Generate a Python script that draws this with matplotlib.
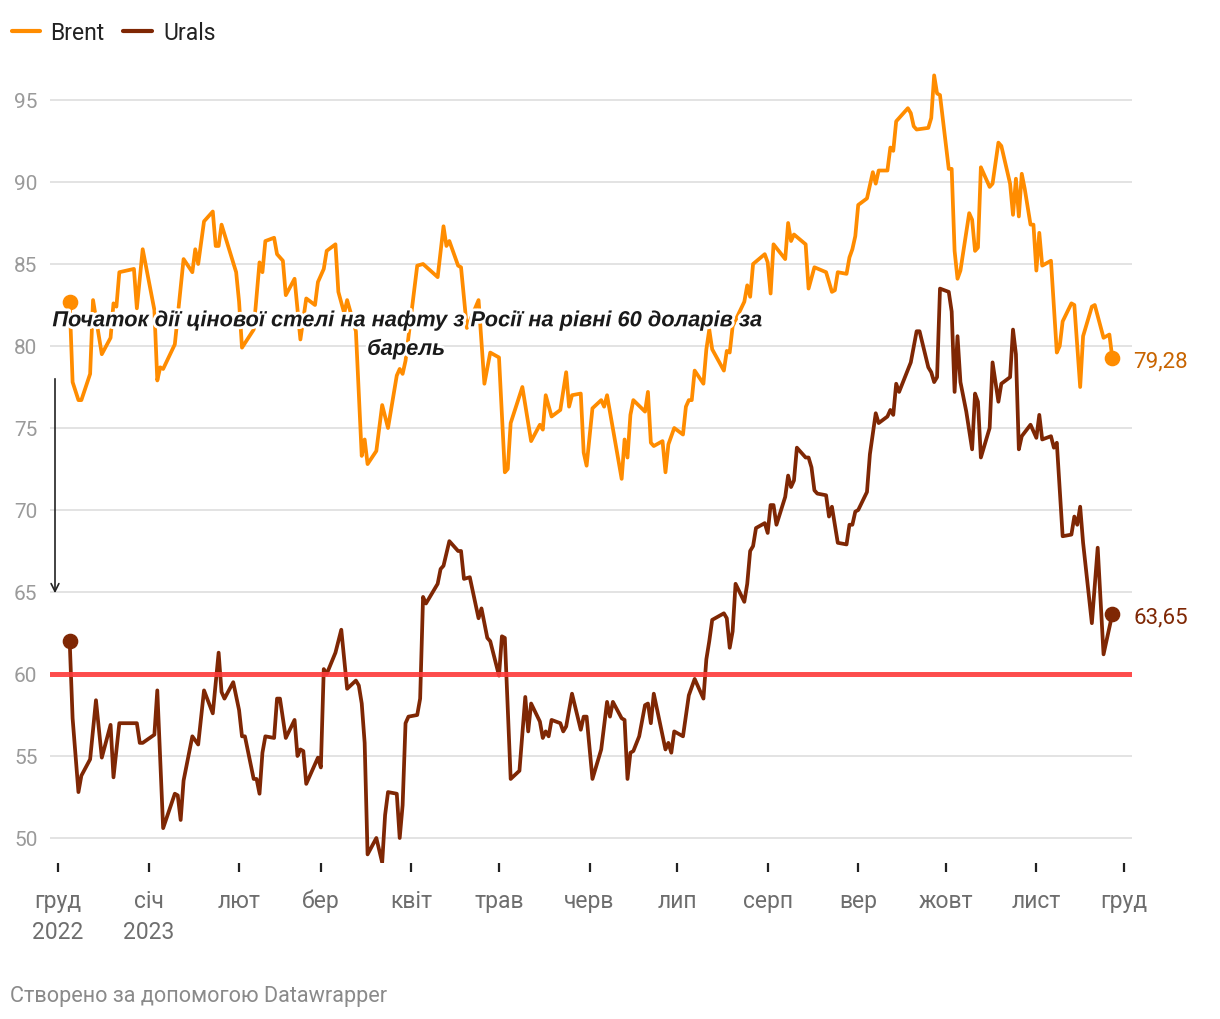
import matplotlib
matplotlib.use('Agg')
import matplotlib.pyplot as plt
import matplotlib.patheffects as pe
from matplotlib.lines import Line2D
import pandas as pd

# Brent, USD per barrel
brent_dates = [
    '2022-12-05', '2022-12-06', '2022-12-08', '2022-12-09', '2022-12-12', '2022-12-13', '2022-12-16',
    '2022-12-19', '2022-12-20', '2022-12-21', '2022-12-22', '2022-12-27', '2022-12-28', '2022-12-30',
    '2023-01-03', '2023-01-04', '2023-01-05', '2023-01-06', '2023-01-10', '2023-01-13', '2023-01-16',
    '2023-01-17', '2023-01-18', '2023-01-20', '2023-01-23', '2023-01-24', '2023-01-25', '2023-01-26',
    '2023-01-31', '2023-02-01', '2023-02-02', '2023-02-06', '2023-02-08', '2023-02-09', '2023-02-10',
    '2023-02-13', '2023-02-14', '2023-02-16', '2023-02-17', '2023-02-20', '2023-02-22', '2023-02-24',
    '2023-02-27', '2023-02-28', '2023-03-02', '2023-03-03', '2023-03-06', '2023-03-07', '2023-03-09',
    '2023-03-10', '2023-03-13', '2023-03-15', '2023-03-16', '2023-03-17', '2023-03-20', '2023-03-22',
    '2023-03-24', '2023-03-27', '2023-03-28', '2023-03-29', '2023-03-30', '2023-04-03', '2023-04-05',
    '2023-04-10', '2023-04-12', '2023-04-13', '2023-04-14', '2023-04-17', '2023-04-18', '2023-04-20',
    '2023-04-24', '2023-04-26', '2023-04-28', '2023-05-01', '2023-05-03', '2023-05-04', '2023-05-05',
    '2023-05-09', '2023-05-12', '2023-05-15', '2023-05-16', '2023-05-17', '2023-05-19', '2023-05-22',
    '2023-05-24', '2023-05-25', '2023-05-26', '2023-05-29', '2023-05-30', '2023-05-31', '2023-06-02',
    '2023-06-05', '2023-06-06', '2023-06-07', '2023-06-12', '2023-06-13', '2023-06-14', '2023-06-15',
    '2023-06-16', '2023-06-20', '2023-06-21', '2023-06-22', '2023-06-23', '2023-06-26', '2023-06-27',
    '2023-06-28', '2023-06-30', '2023-07-03', '2023-07-04', '2023-07-05', '2023-07-06', '2023-07-07',
    '2023-07-10', '2023-07-11', '2023-07-12', '2023-07-13', '2023-07-17', '2023-07-18', '2023-07-19',
    '2023-07-20', '2023-07-24', '2023-07-25', '2023-07-26', '2023-07-27', '2023-07-31', '2023-08-01',
    '2023-08-02', '2023-08-03', '2023-08-07', '2023-08-08', '2023-08-09', '2023-08-10', '2023-08-14',
    '2023-08-15', '2023-08-17', '2023-08-21', '2023-08-23', '2023-08-24', '2023-08-25', '2023-08-28',
    '2023-08-29', '2023-08-30', '2023-08-31', '2023-09-01', '2023-09-04', '2023-09-06', '2023-09-07',
    '2023-09-08', '2023-09-11', '2023-09-12', '2023-09-13', '2023-09-14', '2023-09-18', '2023-09-19',
    '2023-09-20', '2023-09-21', '2023-09-25', '2023-09-26', '2023-09-27', '2023-09-28', '2023-09-29',
    '2023-10-02', '2023-10-03', '2023-10-04', '2023-10-05', '2023-10-06', '2023-10-09', '2023-10-10',
    '2023-10-11', '2023-10-12', '2023-10-13', '2023-10-16', '2023-10-17', '2023-10-19', '2023-10-20',
    '2023-10-23', '2023-10-24', '2023-10-25', '2023-10-26', '2023-10-27', '2023-10-28', '2023-10-30',
    '2023-10-31', '2023-11-01', '2023-11-02', '2023-11-03', '2023-11-06', '2023-11-08', '2023-11-09',
    '2023-11-10', '2023-11-13', '2023-11-14', '2023-11-16', '2023-11-17', '2023-11-20', '2023-11-21',
    '2023-11-24', '2023-11-26', '2023-11-27',
]
brent_values = [
    82.7, 77.8, 76.7, 76.7, 78.3, 82.8, 79.5,
    80.5, 82.6, 82.4, 84.5, 84.7, 82.3, 85.9,
    82.2, 77.9, 78.7, 78.6, 80.1, 85.3, 84.5,
    85.9, 85.0, 87.6, 88.2, 86.1, 86.1, 87.4,
    84.5, 82.7, 79.9, 81.0, 85.1, 84.5, 86.4,
    86.6, 85.6, 85.2, 83.1, 84.1, 80.4, 82.9,
    82.5, 83.9, 84.7, 85.8, 86.2, 83.3, 82.0,
    82.8, 80.9, 73.3, 74.3, 72.8, 73.6, 76.4,
    75.0, 78.2, 78.6, 78.3, 79.1, 84.9, 85.0,
    84.2, 87.3, 86.1, 86.4, 84.9, 84.8, 81.1,
    82.8, 77.7, 79.6, 79.3, 72.3, 72.5, 75.3,
    77.5, 74.2, 75.2, 74.9, 77.0, 75.7, 76.1,
    78.4, 76.3, 77.0, 77.1, 73.5, 72.7, 76.2,
    76.7, 76.3, 77.0, 71.9, 74.3, 73.2, 75.8,
    76.7, 76.0, 77.2, 74.1, 73.9, 74.2, 72.3,
    74.0, 75.0, 74.6, 76.3, 76.7, 76.7, 78.5,
    77.7, 79.8, 81.0, 79.8, 78.5, 79.7, 79.6,
    81.2, 82.7, 83.7, 83.0, 85.0, 85.6, 85.1,
    83.2, 86.2, 85.3, 87.5, 86.4, 86.8, 86.2,
    83.5, 84.8, 84.5, 83.3, 83.4, 84.5, 84.4,
    85.4, 85.9, 86.7, 88.6, 89.0, 90.6, 89.9,
    90.7, 90.7, 92.1, 91.9, 93.7, 94.5, 94.2,
    93.4, 93.2, 93.3, 93.9, 96.5, 95.4, 95.3,
    90.8, 90.8, 85.8, 84.1, 84.6, 88.1, 87.7,
    85.8, 86.0, 90.9, 89.7, 89.9, 92.4, 92.2,
    89.9, 88.0, 90.2, 87.9, 90.5, 89.6, 87.4,
    87.4, 84.6, 86.9, 84.9, 85.2, 79.6, 80.0,
    81.5, 82.6, 82.5, 77.5, 80.6, 82.4, 82.5,
    80.5, 80.7, 79.28,
]

# Urals, USD per barrel
urals_dates = [
    '2022-12-05', '2022-12-06', '2022-12-08', '2022-12-09', '2022-12-12', '2022-12-14', '2022-12-16',
    '2022-12-19', '2022-12-20', '2022-12-22', '2022-12-28', '2022-12-29', '2022-12-30', '2023-01-03',
    '2023-01-04', '2023-01-06', '2023-01-10', '2023-01-11', '2023-01-12', '2023-01-13', '2023-01-16',
    '2023-01-18', '2023-01-20', '2023-01-23', '2023-01-25', '2023-01-26', '2023-01-27', '2023-01-30',
    '2023-02-01', '2023-02-02', '2023-02-03', '2023-02-06', '2023-02-07', '2023-02-08', '2023-02-09',
    '2023-02-10', '2023-02-13', '2023-02-14', '2023-02-15', '2023-02-17', '2023-02-20', '2023-02-21',
    '2023-02-22', '2023-02-23', '2023-02-24', '2023-02-28', '2023-03-01', '2023-03-02', '2023-03-03',
    '2023-03-06', '2023-03-08', '2023-03-10', '2023-03-13', '2023-03-14', '2023-03-15', '2023-03-16',
    '2023-03-17', '2023-03-20', '2023-03-22', '2023-03-23', '2023-03-24', '2023-03-27', '2023-03-28',
    '2023-03-29', '2023-03-30', '2023-03-31', '2023-04-03', '2023-04-04', '2023-04-05', '2023-04-06',
    '2023-04-10', '2023-04-11', '2023-04-12', '2023-04-14', '2023-04-17', '2023-04-18', '2023-04-19',
    '2023-04-21', '2023-04-24', '2023-04-25', '2023-04-27', '2023-04-28', '2023-05-01', '2023-05-02',
    '2023-05-03', '2023-05-05', '2023-05-08', '2023-05-10', '2023-05-11', '2023-05-12', '2023-05-15',
    '2023-05-16', '2023-05-17', '2023-05-18', '2023-05-19', '2023-05-22', '2023-05-23', '2023-05-24',
    '2023-05-26', '2023-05-29', '2023-05-30', '2023-05-31', '2023-06-02', '2023-06-05', '2023-06-07',
    '2023-06-08', '2023-06-09', '2023-06-12', '2023-06-13', '2023-06-14', '2023-06-15', '2023-06-16',
    '2023-06-18', '2023-06-20', '2023-06-21', '2023-06-22', '2023-06-23', '2023-06-27', '2023-06-28',
    '2023-06-29', '2023-06-30', '2023-07-03', '2023-07-05', '2023-07-07', '2023-07-10', '2023-07-11',
    '2023-07-12', '2023-07-13', '2023-07-17', '2023-07-18', '2023-07-19', '2023-07-20', '2023-07-21',
    '2023-07-24', '2023-07-25', '2023-07-26', '2023-07-27', '2023-07-28', '2023-07-31', '2023-08-01',
    '2023-08-02', '2023-08-03', '2023-08-04', '2023-08-07', '2023-08-08', '2023-08-09', '2023-08-10',
    '2023-08-11', '2023-08-14', '2023-08-15', '2023-08-16', '2023-08-17', '2023-08-18', '2023-08-21',
    '2023-08-22', '2023-08-23', '2023-08-25', '2023-08-28', '2023-08-29', '2023-08-30', '2023-08-31',
    '2023-09-01', '2023-09-04', '2023-09-05', '2023-09-07', '2023-09-08', '2023-09-11', '2023-09-12',
    '2023-09-13', '2023-09-14', '2023-09-15', '2023-09-19', '2023-09-21', '2023-09-22', '2023-09-25',
    '2023-09-26', '2023-09-27', '2023-09-28', '2023-09-29', '2023-10-02', '2023-10-03', '2023-10-04',
    '2023-10-05', '2023-10-06', '2023-10-08', '2023-10-10', '2023-10-11', '2023-10-12', '2023-10-13',
    '2023-10-16', '2023-10-17', '2023-10-19', '2023-10-20', '2023-10-23', '2023-10-24', '2023-10-25',
    '2023-10-26', '2023-10-27', '2023-10-30', '2023-11-01', '2023-11-02', '2023-11-03', '2023-11-06',
    '2023-11-07', '2023-11-08', '2023-11-10', '2023-11-13', '2023-11-14', '2023-11-15', '2023-11-16',
    '2023-11-17', '2023-11-20', '2023-11-22', '2023-11-24', '2023-11-27',
]
urals_values = [
    62.0, 57.3, 52.8, 53.8, 54.8, 58.4, 54.9,
    56.9, 53.7, 57.0, 57.0, 55.8, 55.8, 56.3,
    59.0, 50.6, 52.7, 52.6, 51.1, 53.5, 56.2,
    55.7, 59.0, 57.6, 61.3, 58.9, 58.5, 59.5,
    57.8, 56.2, 56.2, 53.6, 53.6, 52.7, 55.2,
    56.2, 56.1, 58.5, 58.5, 56.1, 57.2, 55.0,
    55.4, 55.3, 53.3, 54.9, 54.3, 60.3, 60.0,
    61.3, 62.7, 59.1, 59.6, 59.3, 58.2, 55.8,
    49.0, 50.0, 48.5, 51.4, 52.8, 52.7, 50.0,
    52.0, 57.0, 57.4, 57.5, 58.5, 64.7, 64.3,
    65.5, 66.4, 66.6, 68.1, 67.5, 67.5, 65.8,
    65.9, 63.4, 64.0, 62.2, 62.0, 59.9, 62.3,
    62.2, 53.6, 54.1, 58.6, 56.5, 58.2, 57.1,
    56.1, 56.5, 56.2, 57.2, 57.0, 56.5, 56.8,
    58.8, 56.6, 57.4, 57.4, 53.6, 55.4, 58.3,
    57.4, 58.3, 57.3, 57.2, 53.6, 55.2, 55.3,
    56.2, 58.1, 58.2, 57.0, 58.8, 55.4, 55.8,
    55.2, 56.5, 56.2, 58.7, 59.7, 58.5, 60.9,
    62.0, 63.3, 63.7, 63.4, 61.6, 62.6, 65.5,
    64.4, 65.5, 67.5, 67.8, 68.9, 69.2, 68.6,
    70.3, 70.3, 69.1, 70.8, 72.1, 71.4, 71.8,
    73.8, 73.2, 73.2, 72.6, 71.2, 71.0, 70.9,
    69.6, 70.2, 68.0, 67.9, 69.1, 69.1, 69.9,
    70.0, 71.1, 73.4, 75.9, 75.3, 75.7, 76.1,
    75.8, 77.7, 77.2, 79.0, 80.9, 80.9, 78.7,
    78.4, 77.8, 78.1, 83.5, 83.3, 82.1, 77.2,
    80.6, 77.8, 76.0, 73.7, 77.1, 76.6, 73.2,
    75.0, 79.0, 76.6, 77.7, 78.1, 81.0, 79.5,
    73.7, 74.5, 75.2, 74.4, 75.8, 74.3, 74.5,
    73.8, 74.1, 68.4, 68.5, 69.6, 69.1, 70.2,
    68.0, 63.1, 67.7, 61.2, 63.65,
]

price_cap = 60
y_ticks = [50, 55, 60, 65, 70, 75, 80, 85, 90, 95]
month_ticks = ['2022-12-01', '2023-01-01', '2023-02-01', '2023-03-01', '2023-04-01', '2023-05-01',
               '2023-06-01', '2023-07-01', '2023-08-01', '2023-09-01', '2023-10-01', '2023-11-01',
               '2023-12-01']
month_labels = ['груд\n2022', 'січ\n2023', 'лют', 'бер', 'квіт', 'трав', 'черв', 'лип', 'серп',
                'вер', 'жовт', 'лист', 'груд']
note_text = 'Початок дії цінової стелі на нафту з Росії на рівні 60 доларів за\nбарель'

brent_color = '#ff8c00'
urals_color = '#7f2704'

plt.rcParams['font.family'] = ['Roboto', 'DejaVu Sans']

W, H = 1220, 1020
fig = plt.figure(figsize=(W / 100, H / 100), dpi=100)
ax = fig.add_axes([50 / W, 1 - 864 / H, 1082 / W, (864 - 70) / H])

brent_x = pd.to_datetime(brent_dates)
urals_x = pd.to_datetime(urals_dates)

ax.plot(brent_x, brent_values, color=brent_color, lw=2.7, solid_joinstyle='round', zorder=3)
ax.plot(urals_x, urals_values, color=urals_color, lw=2.7, solid_joinstyle='round', zorder=3)
ax.axhline(price_cap, color='#ff3b3b', lw=3.6, alpha=0.9, zorder=4)

# start / end dots
for xs, ys, c in [(brent_x, brent_values, brent_color), (urals_x, urals_values, urals_color)]:
    ax.scatter([xs[0], xs[-1]], [ys[0], ys[-1]], s=105, color=c, zorder=5, clip_on=False)

ax.annotate(f'{brent_values[-1]:.2f}'.replace('.', ','), (brent_x[-1], brent_values[-1]),
            xytext=(15, -2), textcoords='offset points', va='center', ha='left',
            fontsize=16, color='#c86400', annotation_clip=False)
ax.annotate(f'{urals_values[-1]:.2f}'.replace('.', ','), (urals_x[-1], urals_values[-1]),
            xytext=(15, -2), textcoords='offset points', va='center', ha='left',
            fontsize=16, color=urals_color, annotation_clip=False)

# axes styling
start = pd.Timestamp('2022-12-01')
ax.set_xlim(start - pd.Timedelta(days=8 / 2.9205), start + pd.Timedelta(days=1074 / 2.9205))
ax.set_ylim(95 - (864 - 101) / 16.4, 95 + (101 - 70) / 16.4)
for s in ax.spines.values():
    s.set_visible(False)
ax.set_yticks(y_ticks)
ax.set_yticklabels([str(v) for v in y_ticks])
ax.tick_params(axis='y', length=0, pad=9, labelsize=15, labelcolor='#9a9a9a')
ax.grid(axis='y', color='#e3e3e3', lw=1.4, zorder=0)
ax.set_xticks(pd.to_datetime(month_ticks))
ax.set_xticklabels(month_labels, linespacing=1.45)
ax.tick_params(axis='x', length=6.5, width=1.6, color='#222222', pad=12,
               labelsize=16.5, labelcolor='#6e6e6e')
for lbl in ax.get_xticklabels():
    lbl.set_verticalalignment('top')

# annotation
note_x = start + pd.Timedelta(days=(406 - 58) / 2.9205)
ax.text(note_x, 95 - (336 - 101) / 16.4, note_text, ha='center', va='center',
        multialignment='center', fontsize=15.7, style='italic', fontweight='bold',
        family=['Liberation Sans', 'DejaVu Sans'], color='#1a1a1a', linespacing=1.45, zorder=6,
        path_effects=[pe.withStroke(linewidth=4, foreground='white')])
arrow_x = start + pd.Timedelta(days=(55 - 58) / 2.9205)
ax.annotate('', xy=(arrow_x, 95 - (597 - 101) / 16.4), xytext=(arrow_x, 95 - (377 - 101) / 16.4),
            arrowprops=dict(arrowstyle='->', lw=1.2, color='#222222', mutation_scale=14),
            annotation_clip=False)

# legend
for x0, x1, tx, c, name in [(12, 40, 50, brent_color, 'Brent'), (123, 152, 163, urals_color, 'Urals')]:
    fig.add_artist(Line2D([x0 / W, x1 / W], [1 - 32 / H] * 2, transform=fig.transFigure,
                          color=c, lw=3, solid_capstyle='round'))
    fig.text(tx / W, 1 - 33 / H, name, fontsize=16.5, color='#222222', va='center', ha='left')

fig.text(10 / W, 1 - 997 / H, 'Створено за допомогою Datawrapper', fontsize=15.6,
         color='#8a8a8a', va='center', ha='left')

fig.savefig('out.png', dpi=100, facecolor='white')
